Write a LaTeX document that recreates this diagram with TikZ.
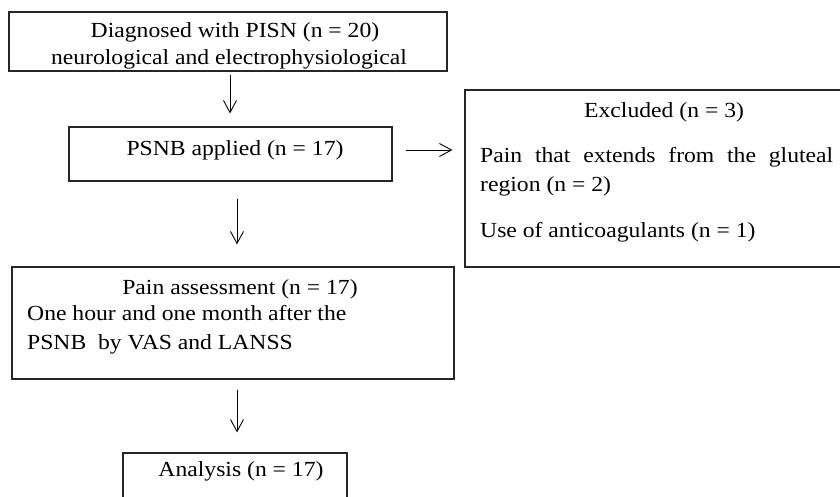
\documentclass[tikz,border=0pt]{standalone}
\usepackage{fontspec}
\setmainfont{Liberation Serif}[FakeStretch=1.1]
\usetikzlibrary{arrows.meta}
\begin{document}
\begin{tikzpicture}[x=1pt, y=1pt, font=\fontsize{21.5}{26}\selectfont,
  box/.style={shape=rectangle, draw=black!85, line width=1.2pt, inner sep=0pt},
  txt/.style={inner sep=0pt},
  flow/.style={-{Straight Barb[length=12pt,width=13pt]}, line width=0.9pt, draw=black}]
\useasboundingbox (0,-496) rectangle (840,0);
\clip (0,-496) rectangle (840,0);
\node[box, minimum width=438pt, minimum height=59pt] (diag) at (228,-41.5) {};
\node[box, minimum width=323pt, minimum height=54pt] (psnb) at (230.5,-154) {};
\node[box, minimum width=415pt, minimum height=177pt] (excl) at (672.5,-178.5) {};
\node[box, minimum width=442pt, minimum height=112pt] (pain) at (233,-323) {};
\node[box, minimum width=224pt, minimum height=57pt] (anal) at (235,-481.5) {};
\node[txt, anchor=base] (diag1) at (235,-37) {Diagnosed with PISN (n = 20)};
\node[txt, anchor=base] (diag2) at (229,-64) {neurological and electrophysiological};
\node[txt, anchor=base] (psnb1) at (235,-155) {PSNB applied (n = 17)};
\node[txt, anchor=base west] (excl1) at (584,-117) {Excluded (n = 3)};
\node[txt, anchor=base west] (excl2) at (480,-162) {\makebox[353pt][s]{Pain that extends from the gluteal}};
\node[txt, anchor=base west] (excl3) at (480,-191) {region (n = 2)};
\node[txt, anchor=base west] (excl4) at (480,-237) {Use of anticoagulants (n = 1)};
\node[txt, anchor=base] (pain1) at (240,-294) {Pain assessment (n = 17)};
\node[txt, anchor=base west] (pain2) at (27,-320) {One hour and one month after the};
\node[txt, anchor=base west] (pain3) at (27,-349) {PSNB\ \ by VAS and LANSS};
\node[txt, anchor=base] (anal1) at (241,-476) {Analysis (n = 17)};
\draw [flow, shorten <=3pt, shorten >=13pt] ([xshift=2pt]diag.south) -- ([xshift=-0.5pt]psnb.north);
\draw [flow, shorten <=13pt, shorten >=12pt] ([yshift=4pt]psnb.east) -- ([yshift=4pt]psnb.east -| excl.west);
\draw [flow, shorten <=17pt, shorten >=22pt] ([xshift=6.5pt]psnb.south) -- ([xshift=4pt]pain.north);
\draw [flow, shorten <=10pt, shorten >=20pt] ([xshift=4pt]pain.south) -- ([xshift=2pt]anal.north);
\end{tikzpicture}
\end{document}
